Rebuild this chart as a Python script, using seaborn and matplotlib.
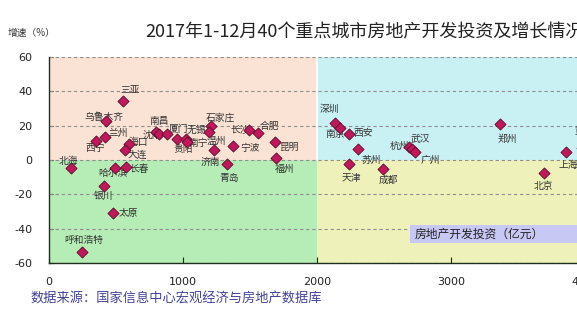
import matplotlib
matplotlib.use("Agg")
import matplotlib.pyplot as plt
from matplotlib.patches import Rectangle
import seaborn as sns
import pandas as pd

# ---------------- data ----------------
cities = ["北海", "西宁", "乌鲁木齐", "兰州", "三亚", "海口", "大连", "哈尔滨", "长春",
          "银川", "太原", "呼和浩特", "南昌", "沈阳", "厦门", "贵阳", "无锡", "南宁",
          "石家庄", "温州", "济南", "青岛", "宁波", "长沙", "合肥", "昆明", "福州",
          "深圳", "南京", "西安", "苏州", "天津", "成都", "杭州", "武汉", "广州",
          "郑州", "上海", "北京", "重庆"]
investment = [167, 351, 425, 415, 552, 599, 570, 495, 572,
              408, 475, 244, 799, 821, 883, 957, 1026, 1030,
              1209, 1196, 1231, 1331, 1375, 1490, 1560, 1689, 1694,
              2132, 2172, 2241, 2308, 2241, 2493, 2684, 2709, 2734,
              3366, 3858, 3696, 3980]
growth = [-4.9, 11.3, 22.6, 13.4, 34.6, 9.5, 6.0, -4.9, -3.9,
          -15.2, -30.7, -53.8, 16.5, 15.0, 14.9, 12.4, 12.5, 10.5,
          19.8, 16.1, 5.9, -2.3, 8.0, 17.5, 15.6, 10.5, 1.3,
          21.7, 18.7, 15.2, 6.6, -2.2, -5.4, 7.4, 6.2, 4.8,
          21.2, 4.5, -7.6, 7.0]
x_ticks = [0, 1000, 2000, 3000, 4000]
y_ticks = [-60, -40, -20, 0, 20, 40, 60]

title = "2017年1-12月40个重点城市房地产开发投资及增长情况"
y_title = "增速（%）"
x_title = "房地产开发投资（亿元）"
source = "数据来源：国家信息中心宏观经济与房地产数据库"

# ---------------- style (label placement in pixels) ----------------
label_offsets = {
    "三亚": (7, 11), "乌鲁木齐": (-2, 4), "兰州": (14, 4), "西宁": (-1, -7),
    "海口": (9, 2), "大连": (12, -5), "北海": (-3, 7), "哈尔滨": (-2, -5),
    "长春": (14, -2), "银川": (0, -10), "太原": (16, 0), "呼和浩特": (2, 12),
    "南昌": (3, 11), "沈阳": (-7, -1), "厦门": (11, 5), "贵阳": (6, -10),
    "无锡": (10, 9), "南宁": (11, -1), "石家庄": (9, 8), "温州": (7, -9),
    "济南": (-4, -12), "青岛": (2, -14), "宁波": (17, -2), "长沙": (-8, 1),
    "合肥": (11, 7), "昆明": (14, -5), "福州": (9, -11), "深圳": (-5, 14),
    "南京": (-5, -6), "西安": (14, 1), "苏州": (13, -11), "天津": (2, -14),
    "成都": (5, -11), "杭州": (-9, 1), "武汉": (8, 10), "广州": (15, -8),
    "郑州": (7, -15), "上海": (2, -13), "北京": (-1, -13), "重庆": (2, 17),
}

df = pd.DataFrame({"city": cities, "investment": investment, "growth": growth})

sns.set_style("white")
plt.rcParams["font.family"] = ["Noto Sans CJK SC", "DejaVu Sans"]
plt.rcParams["axes.unicode_minus"] = False

W, H = 577, 324
fig = plt.figure(figsize=(W / 100, H / 100), dpi=100)
fig.patch.set_facecolor("white")

X_MAX = 4500
ax = fig.add_axes([49 / W, 1 - 263 / H, (134 * X_MAX / 1000) / W, 206 / H])
ax.set_xlim(0, X_MAX)
ax.set_ylim(-60, 60)

X_SPLIT, Y_SPLIT = 2000, 0
quad = [((0, Y_SPLIT), X_SPLIT, 60, "#fae3d5"),
        ((X_SPLIT, Y_SPLIT), X_MAX - X_SPLIT, 60, "#c9f1f4"),
        ((0, -60), X_SPLIT, 60, "#b6ecb6"),
        ((X_SPLIT, -60), X_MAX - X_SPLIT, 60, "#eef2ba")]
for xy, w, h, c in quad:
    ax.add_patch(Rectangle(xy, w, h, facecolor=c, edgecolor="none", zorder=0))
ax.axvline(X_SPLIT, ymin=0.5, ymax=1, color="white", lw=1.2, zorder=0.5)

for yv in y_ticks:
    ax.axhline(yv, color="#8f8f8f", lw=0.8, ls=(0, (3, 2.5)), zorder=1)

sns.scatterplot(data=df, x="investment", y="growth", marker="D", s=32,
                color="#c0185a", edgecolor="#5a0a2a", linewidth=0.6,
                ax=ax, zorder=5, legend=False)

for c, xv, yv in zip(cities, investment, growth):
    dx, dy = label_offsets[c]
    ax.annotate(c, (xv, yv), xytext=(dx, dy), textcoords="offset pixels",
                ha="center", va="center", fontsize=7, color="#333333",
                zorder=4, annotation_clip=False)

ax.set_xticks(x_ticks)
ax.set_yticks(y_ticks)
ax.set_xticklabels([str(v) for v in x_ticks], family="DejaVu Sans")
ax.set_yticklabels([str(v) for v in y_ticks], family="DejaVu Sans")
ax.tick_params(axis="x", direction="in", length=4, width=0.8, pad=10,
               labelsize=8, colors="#222222", bottom=True)
ax.tick_params(axis="y", direction="in", length=3, width=0.8, pad=12,
               labelsize=8, colors="#222222", left=True)
ax.set_xlabel("")
ax.set_ylabel("")
for side in ["top", "right"]:
    ax.spines[side].set_visible(False)
for side in ["left", "bottom"]:
    ax.spines[side].set_color("#1f2f1f")
    ax.spines[side].set_linewidth(1.0)

# titles and annotations
fig.text(145 / W, 1 - 32 / H, title, fontsize=13, color="#222222",
         ha="left", va="center")
fig.text(8 / W, 1 - 33 / H, y_title, fontsize=7, color="#333333",
         ha="left", va="center")
fig.add_artist(Rectangle((410 / W, 1 - 243 / H), 0.4, 18 / H,
                         transform=fig.transFigure, facecolor="#c8c8f4",
                         edgecolor="none", zorder=3))
fig.text(415 / W, 1 - 234 / H, x_title, fontsize=8.5, color="#222222",
         ha="left", va="center", zorder=4)
fig.text(30 / W, 1 - 299 / H, source, fontsize=9.5, color="#43439a",
         ha="left", va="center")

fig.savefig("out.png", dpi=100)
